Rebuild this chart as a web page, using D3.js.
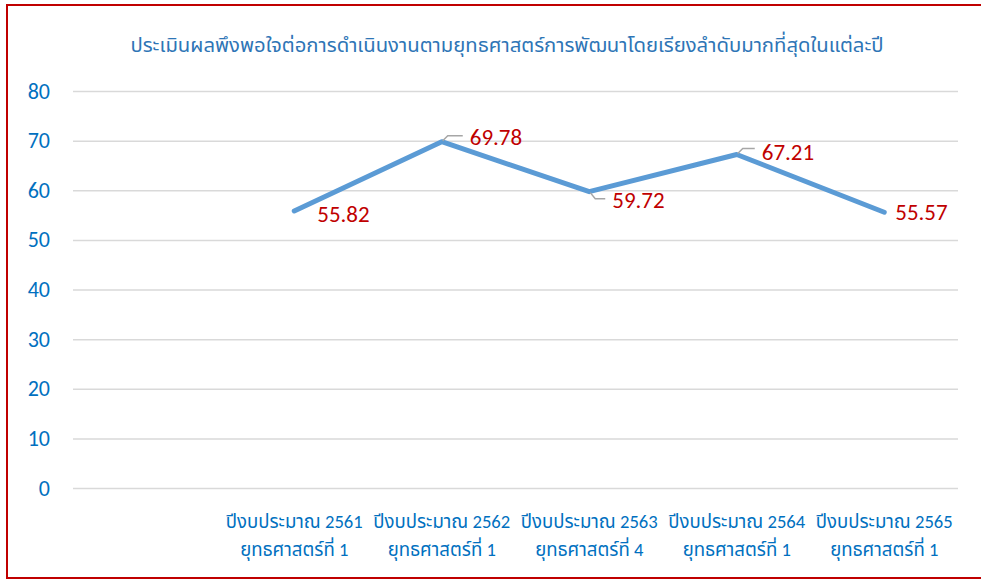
<!DOCTYPE html>
<html>
<head>
<meta charset="utf-8">
<script src="https://cdn.jsdelivr.net/npm/d3@7"></script>
<style>
  body { margin: 0; background: #fff; }
  svg text { font-family: Calibri, "Noto Sans Thai", "Noto Sans", "Open Sans", sans-serif; }
</style>
</head>
<body>
<svg id="chart" width="981" height="581"></svg>
<script>
// chart data
const title = "ประเมินผลพึงพอใจต่อการดำเนินงานตามยุทธศาสตร์การพัฒนาโดยเรียงลำดับมากที่สุดในแต่ละปี";
const years = ["", "ปีงบประมาณ 2561", "ปีงบประมาณ 2562", "ปีงบประมาณ 2563", "ปีงบประมาณ 2564", "ปีงบประมาณ 2565"];
const strategies = ["", "ยุทธศาสตร์ที่ 1", "ยุทธศาสตร์ที่ 1", "ยุทธศาสตร์ที่ 4", "ยุทธศาสตร์ที่ 1", "ยุทธศาสตร์ที่ 1"];
const scores = [null, 55.82, 69.78, 59.72, 67.21, 55.57];
const yTicks = [0, 10, 20, 30, 40, 50, 60, 70, 80];

// where each data label sits relative to its point (and whether it has a leader line)
const labelPlace = [null,
  { dx: 23, dy: 3, leader: false },
  { dx: 28, dy: -5, leader: true, up: true },
  { dx: 23, dy: 8, leader: true, up: false },
  { dx: 25, dy: -3, leader: true, up: true },
  { dx: 11, dy: 0, leader: false }];

const svg = d3.select("#chart");
const margin = { left: 73, right: 23, top: 91, bottom: 93 };
const W = 981, H = 581;

// frame
svg.append("rect").attr("x", 7).attr("y", 5).attr("width", 990).attr("height", 573)
  .attr("fill", "none").attr("stroke", "#C00000").attr("stroke-width", 2);

const x = d3.scaleBand().domain(d3.range(years.length))
  .range([margin.left, W - margin.right]);
const y = d3.scaleLinear().domain([0, 80]).range([H - margin.bottom, margin.top]);

// title
svg.append("text").attr("x", 507).attr("y", 52).attr("text-anchor", "middle")
  .attr("fill", "#2E75B6").style("font-size", "20.3px").text(title);

// gridlines + y axis
const yAxis = d3.axisLeft(y).tickValues(yTicks).tickSize(-(W - margin.left - margin.right)).tickPadding(23);
svg.append("g").attr("transform", `translate(${margin.left},0)`).call(yAxis)
  .call(g => g.select(".domain").remove())
  .call(g => g.selectAll(".tick line").attr("stroke", "#D9D9D9").attr("stroke-width", 1.5))
  .call(g => g.selectAll(".tick text").attr("fill", "#0070C0").style("font-size", "22px"));

// category labels
const cat = svg.append("g");
years.forEach((t, i) => {
  const cx = x(i) + x.bandwidth() / 2;
  cat.append("text").attr("x", cx).attr("y", 528).attr("text-anchor", "middle")
    .attr("fill", "#0070C0").style("font-size", "18.6px").text(t);
  cat.append("text").attr("x", cx).attr("y", 556).attr("text-anchor", "middle")
    .attr("fill", "#0070C0").style("font-size", "18.6px").text(strategies[i]);
});

// line
const pts = scores.map((v, i) => ({ v, i })).filter(d => d.v !== null);
const line = d3.line().x(d => x(d.i) + x.bandwidth() / 2).y(d => y(d.v));
svg.append("path").datum(pts).attr("d", line)
  .attr("fill", "none").attr("stroke", "#5B9BD5").attr("stroke-width", 5)
  .attr("stroke-linecap", "round").attr("stroke-linejoin", "round");

// data labels
pts.forEach(d => {
  const px = x(d.i) + x.bandwidth() / 2, py = y(d.v);
  const p = labelPlace[d.i];
  if (p.leader) {
    const ly = p.up ? py - 6 : py + 7;
    svg.append("path")
      .attr("d", `M${px + 1},${py + (p.up ? -1 : 1)} L${px + 6},${ly} L${px + p.dx - 7},${ly}`)
      .attr("fill", "none").attr("stroke", "#A6A6A6").attr("stroke-width", 1.5);
  }
  svg.append("text").attr("x", px + p.dx).attr("y", py + p.dy).attr("dy", "0.35em")
    .attr("fill", "#C00000").style("font-size", "23px").text(d.v.toFixed(2));
});
</script>
</body>
</html>
